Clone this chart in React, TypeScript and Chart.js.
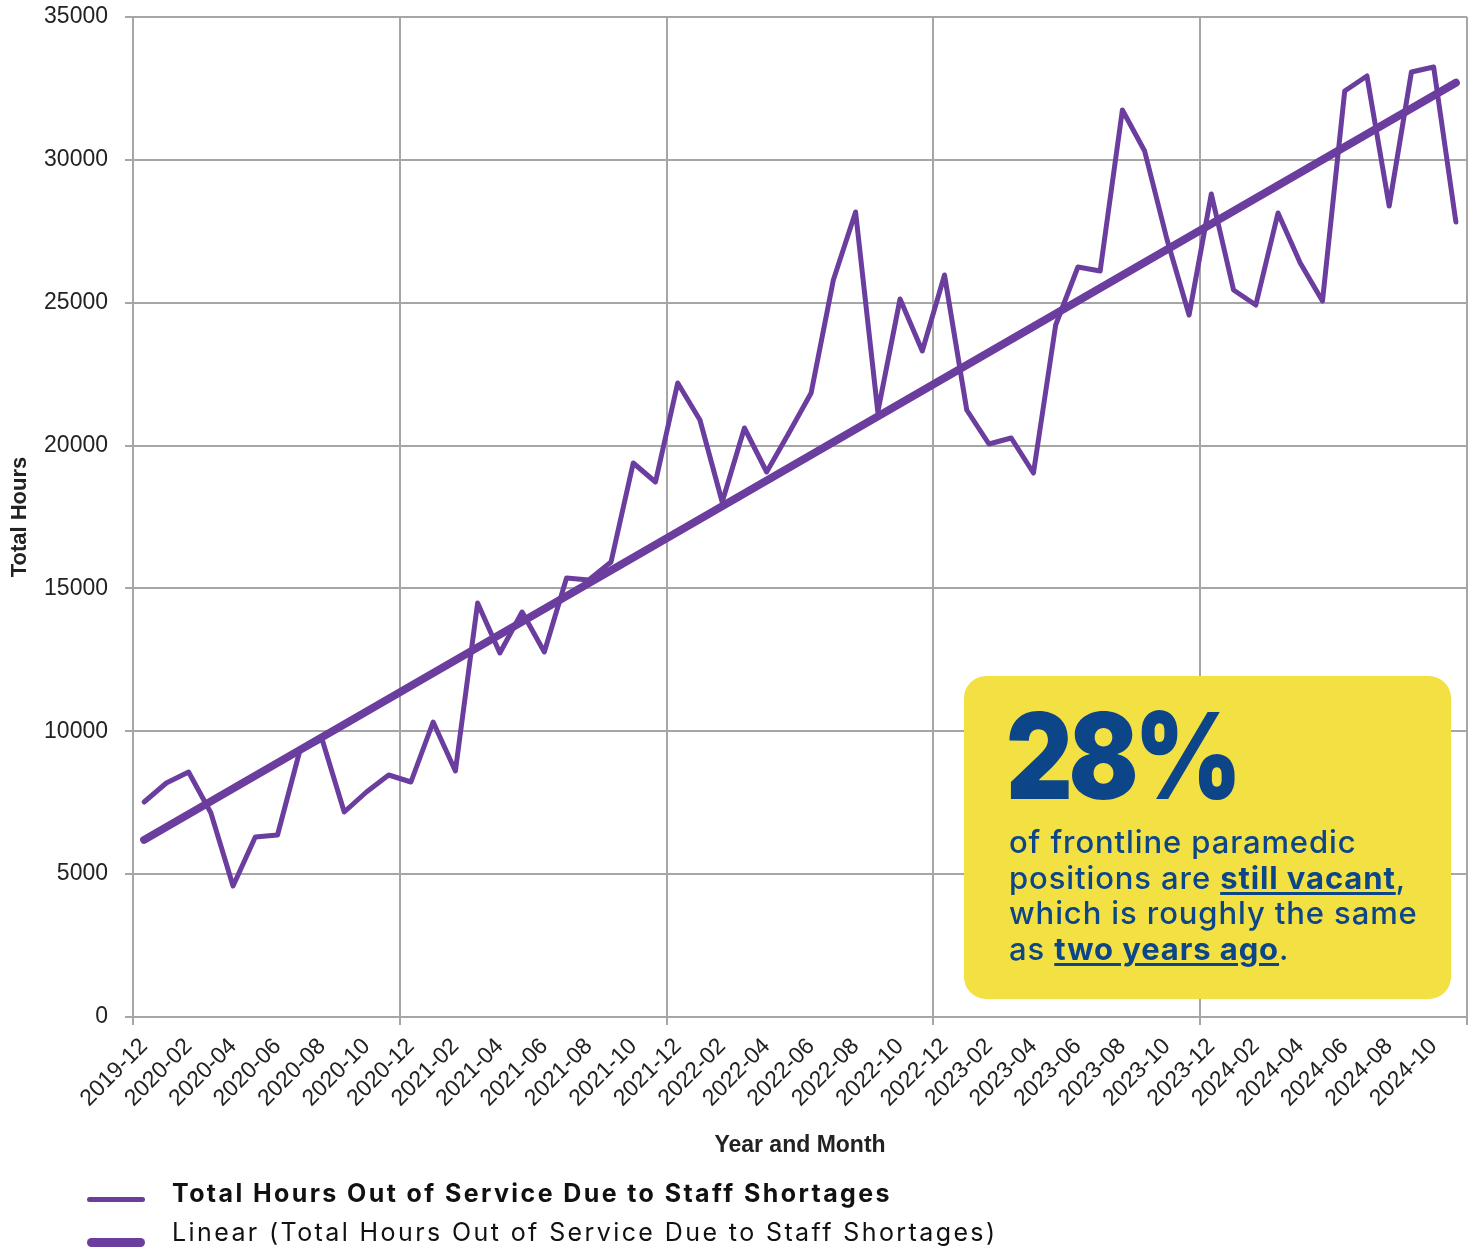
import React, { useEffect, useRef } from "react";
import { Chart, registerables } from "chart.js";

Chart.register(...registerables);

const months: string[] = [
  "2019-12",
  "2020-01", "2020-02", "2020-03", "2020-04", "2020-05", "2020-06",
  "2020-07", "2020-08", "2020-09", "2020-10", "2020-11", "2020-12",
  "2021-01", "2021-02", "2021-03", "2021-04", "2021-05", "2021-06",
  "2021-07", "2021-08", "2021-09", "2021-10", "2021-11", "2021-12",
  "2022-01", "2022-02", "2022-03", "2022-04", "2022-05", "2022-06",
  "2022-07", "2022-08", "2022-09", "2022-10", "2022-11", "2022-12",
  "2023-01", "2023-02", "2023-03", "2023-04", "2023-05", "2023-06",
  "2023-07", "2023-08", "2023-09", "2023-10", "2023-11", "2023-12",
  "2024-01", "2024-02", "2024-03", "2024-04", "2024-05", "2024-06",
  "2024-07", "2024-08", "2024-09", "2024-10", "2024-11",
];

const totalHours: number[] = [
  7525,
  8190, 8575, 7150, 4585, 6300, 6370,
  9310, 9730, 7175, 7875, 8470, 8225,
  10325, 8610, 14490, 12740, 14175, 12775,
  15365, 15295, 15925, 19390, 18725, 22190,
  20895, 18025, 20615, 19075, 20440, 21840,
  25795, 28175, 21175, 25130, 23310, 25970,
  21245, 20055, 20265, 19040, 24220, 26250,
  26110, 31745, 30310, 27230, 24570, 28805,
  25445, 24920, 28140, 26390, 25060, 32410,
  32935, 28385, 33075, 33250, 27825,
];

// Linear trend line end values
const trendStart = 6200;
const trendEnd = 32700;

const yTicks = { min: 0, max: 35000, step: 5000 };

const SERIES_NAME = "Total Hours Out of Service Due to Staff Shortages";
const TREND_NAME = "Linear (Total Hours Out of Service Due to Staff Shortages)";

const PURPLE = "#6a3d9e";
const GRID = "#a6a6a6";
const BLUE = "#0d4589";
const YELLOW = "#f3e143";

export default function App() {
  const canvasRef = useRef<HTMLCanvasElement | null>(null);

  useEffect(() => {
    const canvas = canvasRef.current;
    if (!canvas) return;
    const xGrid = (ctx: any) => {
      if (ctx.type !== "tick") return GRID;
      return ctx.index % 12 === 0 ? GRID : "rgba(0,0,0,0)";
    };
    const chart = new Chart(canvas, {
      type: "line",
      data: {
        labels: months,
        datasets: [
          {
            label: SERIES_NAME,
            data: totalHours,
            borderColor: PURPLE,
            backgroundColor: PURPLE,
            borderWidth: 5,
            pointRadius: 0,
            tension: 0,
            borderJoinStyle: "round",
            borderCapStyle: "round",
          },
          {
            label: TREND_NAME,
            data: [
              { x: months[0], y: trendStart },
              { x: months[months.length - 1], y: trendEnd },
            ] as any,
            borderColor: PURPLE,
            backgroundColor: PURPLE,
            borderWidth: 8,
            pointRadius: 0,
            tension: 0,
            borderCapStyle: "round",
          },
        ],
      },
      options: {
        responsive: false,
        animation: false,
        devicePixelRatio: 1,
        layout: { padding: { left: 0, right: 10, top: 17, bottom: 94 } },
        plugins: {
          legend: { display: false },
          tooltip: { enabled: false },
        },
        scales: {
          x: {
            type: "category",
            offset: true,
            grid: {
              offset: true,
              color: xGrid,
              tickColor: xGrid,
              lineWidth: 2,
              tickLength: 8,
            },
            border: { display: false },
            ticks: {
              autoSkip: false,
              maxRotation: 45,
              minRotation: 45,
              padding: 8,
              color: "#222",
              font: { family: "'Liberation Sans', Arial, sans-serif", size: 23 },
              callback: function (_v: any, i: number) {
                return i % 2 === 0 ? months[i] : "";
              },
            },
            title: {
              display: true,
              text: "Year and Month",
              color: "#222",
              font: { family: "'Liberation Sans', Arial, sans-serif", size: 23, weight: "bold" },
              padding: { top: 0, bottom: 0 },
            },
            afterFit: (scale: any) => {
              scale.height = 142;
              scale.paddingLeft = 0;
              scale.paddingRight = 0;
            },
          },
          y: {
            min: yTicks.min,
            max: yTicks.max,
            grid: {
              color: GRID,
              tickColor: GRID,
              lineWidth: 2,
              tickLength: 8,
            },
            border: { display: true, color: GRID, width: 2 },
            ticks: {
              stepSize: yTicks.step,
              padding: 17,
              color: "#222",
              font: { family: "'Liberation Sans', Arial, sans-serif", size: 23 },
              callback: (v: any) => String(v),
            },
            title: {
              display: true,
              text: "Total Hours",
              color: "#222",
              font: { family: "'Liberation Sans', Arial, sans-serif", size: 22, weight: "bold" },
              padding: { top: 7, bottom: 0 },
            },
            afterFit: (scale: any) => {
              scale.width = 133;
              scale.paddingTop = 0;
              scale.paddingBottom = 0;
            },
          },
        },
      },
    });
    return () => chart.destroy();
  }, []);

  const font = "Inter, 'Noto Sans', sans-serif";

  return (
    <div style={{ position: "absolute", left: 0, top: 0, width: 1477, height: 1253, overflow: "hidden", background: "#fff" }}>
      <canvas ref={canvasRef} width={1477} height={1253} style={{ position: "absolute", left: 0, top: 0, width: 1477, height: 1253 }} />
      <div
        style={{
          position: "absolute",
          left: 964,
          top: 676,
          width: 487,
          height: 323,
          borderRadius: 22,
          background: YELLOW,
        }}
      />
      <div
        style={{
          position: "absolute",
          left: 1006,
          top: 696,
          fontFamily: font,
          fontWeight: 900,
          fontSize: 120,
          lineHeight: "120px",
          color: BLUE,
          letterSpacing: -5,
          whiteSpace: "nowrap",
          transform: "scaleX(0.86)",
          transformOrigin: "0 0",
        }}
      >
        28%
      </div>
      <div
        style={{
          position: "absolute",
          left: 1009,
          top: 824,
          width: 440,
          fontFamily: font,
          fontWeight: 500,
          fontSize: 31,
          lineHeight: "35.7px",
          color: BLUE,
          letterSpacing: 0.9,
          whiteSpace: "nowrap",
        }}
      >
        of frontline paramedic
        <br />
        positions are{" "}
        <span style={{ fontWeight: 700, textDecoration: "underline", textDecorationThickness: 3, textUnderlineOffset: 3 }}>
          still vacant
        </span>
        ,
        <br />
        which is roughly the same
        <br />
        as{" "}
        <span style={{ fontWeight: 700, textDecoration: "underline", textDecorationThickness: 3, textUnderlineOffset: 3 }}>
          two years ago
        </span>
        .
      </div>
      <div style={{ position: "absolute", left: 87, top: 1197, width: 58, height: 5, borderRadius: 3, background: PURPLE }} />
      <div style={{ position: "absolute", left: 87, top: 1238, width: 58, height: 9, borderRadius: 5, background: PURPLE }} />
      <div
        style={{
          position: "absolute",
          left: 172,
          top: 1181,
          fontFamily: font,
          fontWeight: 700,
          fontSize: 25,
          lineHeight: "25px",
          color: "#111",
          letterSpacing: 2.4,
          whiteSpace: "nowrap",
        }}
      >
        {SERIES_NAME}
      </div>
      <div
        style={{
          position: "absolute",
          left: 172,
          top: 1220,
          fontFamily: font,
          fontWeight: 400,
          fontSize: 25,
          lineHeight: "25px",
          color: "#111",
          letterSpacing: 2.4,
          whiteSpace: "nowrap",
        }}
      >
        {TREND_NAME}
      </div>
    </div>
  );
}
